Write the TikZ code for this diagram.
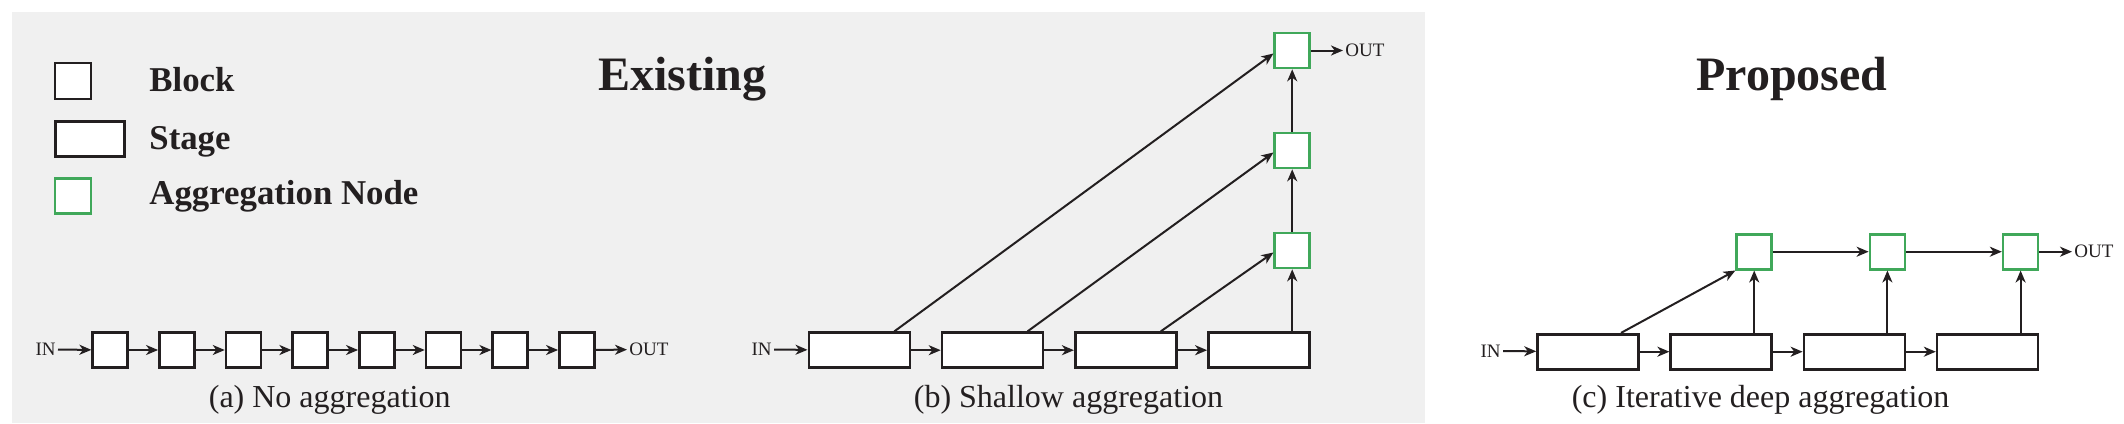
\documentclass[tikz,border=0pt]{standalone}
\usepackage{fontspec}
\setmainfont{Liberation Serif}
\usetikzlibrary{arrows.meta,calc}
\definecolor{bggray}{HTML}{F0F0F0}
\definecolor{ink}{HTML}{231F20}
\definecolor{agggreen}{RGB}{64,168,90}
\tikzset{
  box/.style={draw=ink,line width=1.3pt,fill=white,inner sep=0pt,minimum height=17.5pt},
  blockbox/.style={box,minimum width=17.5pt},
  stagebox/.style={box,minimum width=50.5pt},
  aggbox/.style={box,draw=agggreen,minimum width=17.5pt},
  conn/.style={draw=ink,line width=1pt,-{Stealth[length=6pt,width=5pt,inset=1.8pt]}},
  io/.style={font=\fontsize{9.5pt}{10pt}\selectfont,text=ink,inner sep=1pt},
  legendtxt/.style={font=\fontsize{17.4pt}{20pt}\selectfont\bfseries,text=ink,inner sep=0pt,anchor=base west},
  titletxt/.style={font=\fontsize{24pt}{28pt}\selectfont\bfseries,text=ink,inner sep=0pt,anchor=base},
  captxt/.style={font=\fontsize{16pt}{18pt}\selectfont,text=ink,inner sep=0pt,anchor=base}
}
\begin{document}
\begin{tikzpicture}[x=0.5pt,y=-0.5pt]
\useasboundingbox (0,0) rectangle (2124,423);
\fill[bggray] (12,12) rectangle (1425,423);

% legend
\node[blockbox,minimum width=18pt,minimum height=18pt] (lb) at (73,81) {};
\node[stagebox,minimum width=34.5pt] (ls) at (89.7,139) {};
\node[aggbox,minimum width=18pt] (la) at (73,195.7) {};
\node[legendtxt] (lbt) at (149,91.3) {Block};
\node[legendtxt] (lst) at (149,149.3) {Stage};
\node[legendtxt] (lat) at (149,204) {Aggregation Node};

% titles
\node[titletxt] (t1) at (682.5,90.7) {Existing};
\node[titletxt] (t2) at (1792,90.7) {Proposed};

% panel a
\node[io,anchor=east] (ain) at (58,349.5) {IN};
\foreach \i in {0,...,7} {
  \node[blockbox] (a\i) at ({110.2+66.67*\i},350) {};
}
\node[io,anchor=west] (aout) at (627,349.5) {OUT};
\draw[conn] (ain) -- (a0);
\foreach \i/\j in {0/1,1/2,2/3,3/4,4/5,5/6,6/7} {
  \draw[conn] (a\i) -- (a\j);
}
\draw[conn] (a7) -- (aout);
\node[captxt] (capa) at (329.7,407.7) {(a) No aggregation};

% panel b
\node[io,anchor=east] (bin) at (774,349.5) {IN};
\foreach \i in {0,...,3} {
  \node[stagebox] (bs\i) at ({859.3+133.2*\i},350.2) {};
}
\foreach \i/\y in {1/250.5,2/150.5,3/50.5} {
  \node[aggbox] (bg\i) at (1292.2,\y) {};
}
\node[io,anchor=west] (bout) at (1343,50.5) {OUT};
\draw[conn] (bin) -- (bs0);
\draw[conn] (bs0) -- (bs1);
\draw[conn] (bs1) -- (bs2);
\draw[conn] (bs2) -- (bs3);
\draw[conn] (bs3.north -| bg1) -- (bg1);
\draw[conn] (bg1) -- (bg2);
\draw[conn] (bg2) -- (bg3);
\draw[conn] ($(bs2.north)+(35,0)$) -- ($(bg1.west)+(0,2)$);
\draw[conn] ($(bs1.north)+(35,0)$) -- ($(bg2.west)+(0,2)$);
\draw[conn] ($(bs0.north)+(35,0)$) -- ($(bg3.west)+(0,3)$);
\draw[conn] (bg3) -- (bout);
\node[captxt] (capb) at (1068.5,407) {(b) Shallow aggregation};

% panel c
\node[io,anchor=east] (cin) at (1503,351) {IN};
\foreach \i in {0,...,3} {
  \node[stagebox] (cs\i) at ({1588+133.2*\i},351.7) {};
}
\foreach \i in {1,2,3} {
  \node[aggbox] (cg\i) at ({1588+133.2*\i+33},251.7) {};
}
\node[io,anchor=west] (cout) at (2072,251.7) {OUT};
\draw[conn] (cin) -- (cs0);
\draw[conn] (cs0) -- (cs1);
\draw[conn] (cs1) -- (cs2);
\draw[conn] (cs2) -- (cs3);
\draw[conn] ($(cs0.north)+(33,0)$) -- (cg1.south west);
\draw[conn] (cs1.north -| cg1) -- (cg1);
\draw[conn] (cs2.north -| cg2) -- (cg2);
\draw[conn] (cs3.north -| cg3) -- (cg3);
\draw[conn] (cg1) -- (cg2);
\draw[conn] (cg2) -- (cg3);
\draw[conn] (cg3) -- (cout);
\node[captxt] (capc) at (1760.6,407) {(c) Iterative deep aggregation};
\end{tikzpicture}
\end{document}
